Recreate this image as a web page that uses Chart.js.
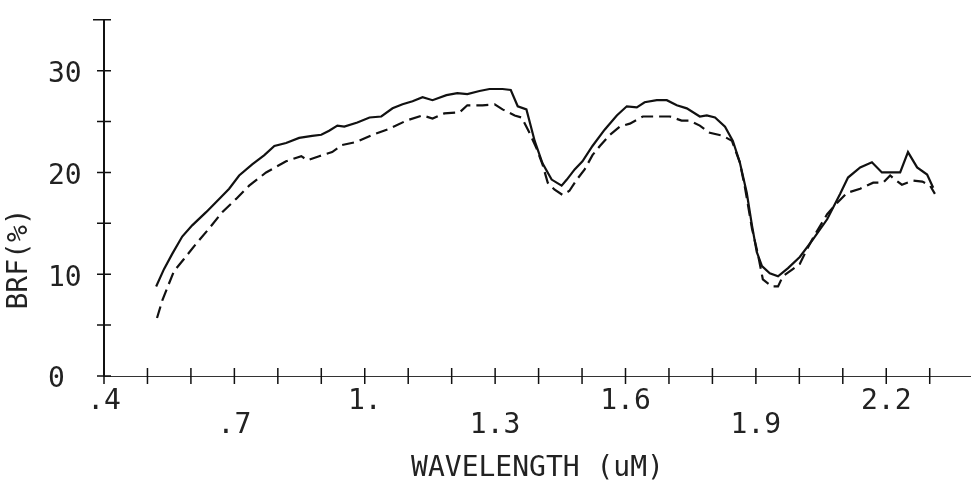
<!DOCTYPE html>
<html>
<head>
<meta charset="utf-8">
<script src="https://cdn.jsdelivr.net/npm/chart.js@4/dist/chart.umd.min.js"></script>
<style>
  html, body { margin: 0; padding: 0; background: #fff; }
  canvas { display: block; }
</style>
</head>
<body>
<canvas id="c" width="971" height="488"></canvas>
<script>
// ---- data ----
const solidWl = [0.520,0.538,0.557,0.580,0.603,0.635,0.665,0.688,0.711,0.741,0.769,0.792,0.819,0.849,0.879,0.900,0.918,0.937,0.953,0.983,
  1.011,1.038,1.064,1.087,1.110,1.133,1.156,1.188,1.213,1.236,1.264,1.287,1.317,1.336,
  1.352,1.372,1.391,1.409,1.430,1.453,1.465,1.483,1.501,1.524,1.552,1.580,
  1.603,1.626,1.644,1.672,1.695,1.718,1.741,1.771,1.787,1.806,1.829,1.847,1.863,1.879,1.891,
  1.902,1.914,1.932,1.951,1.974,2.001,2.031,2.064,2.094,2.112,2.140,2.167,2.190,2.209,2.232,2.250,2.271,2.294,2.308];
const solidBrf = [8.8,10.5,12.0,13.7,14.8,16.1,17.4,18.4,19.7,20.8,21.7,22.6,22.9,23.4,23.6,23.7,24.1,24.6,24.5,24.9,
  25.4,25.5,26.3,26.7,27.0,27.4,27.1,27.6,27.8,27.7,28.0,28.2,28.2,28.1,
  26.5,26.2,23.1,20.9,19.3,18.7,19.3,20.3,21.1,22.6,24.2,25.6,
  26.5,26.4,26.9,27.1,27.1,26.6,26.3,25.5,25.6,25.4,24.5,23.1,21.0,18.0,14.8,
  12.2,10.8,10.1,9.8,10.6,11.7,13.4,15.4,17.9,19.5,20.5,21.0,20.0,20.0,20.0,22.0,20.5,19.8,18.5];

const dashedWl = [0.522,0.534,0.545,0.561,0.584,0.612,0.642,0.672,0.704,0.734,0.773,0.819,0.854,0.868,0.895,0.925,0.948,0.981,
  1.018,1.057,1.096,1.133,1.156,1.183,1.218,1.236,1.271,1.299,1.317,1.345,1.361,1.379,1.395,1.409,1.421,1.437,1.455,1.471,1.488,
  1.506,1.524,1.541,1.564,1.587,1.610,1.640,1.672,1.702,1.729,1.748,1.771,1.794,1.824,1.845,1.863,1.875,1.891,
  1.905,1.916,1.937,1.951,1.962,1.985,2.001,2.018,2.036,2.064,2.089,2.110,2.140,2.170,2.193,2.209,2.220,2.236,2.262,2.283,2.301,2.312];
const dashedBrf = [5.7,7.4,8.6,10.3,11.5,13.0,14.5,16.1,17.4,18.7,20.0,21.1,21.6,21.2,21.6,22.0,22.7,23.0,
  23.7,24.3,25.1,25.6,25.3,25.8,25.9,26.6,26.6,26.7,26.2,25.6,25.4,23.9,22.4,20.8,19.0,18.3,17.8,18.2,19.3,
  20.3,21.7,22.6,23.7,24.5,24.8,25.5,25.5,25.5,25.1,25.1,24.6,23.9,23.6,23.1,21.0,18.5,14.5,
  11.9,9.5,8.8,8.8,9.8,10.5,11.0,12.5,13.9,15.9,17.1,18.0,18.4,19.0,19.0,19.7,19.3,18.8,19.2,19.1,18.7,17.9];

// ---- ticks and labels ----
const xTickValues = [0.4,0.5,0.6,0.7,0.8,0.9,1.0,1.1,1.2,1.3,1.4,1.5,1.6,1.7,1.8,1.9,2.0,2.1,2.2,2.3];
const xLabelValues = [0.4,0.7,1.0,1.3,1.6,1.9,2.2];
const xLabelTexts = ['.4','.7','1.','1.3','1.6','1.9','2.2'];
const yLabelValues = [0,10,20,30];
const yLabelTexts = ['0','10','20','30'];
const xTitle = 'WAVELENGTH (uM)';
const yTitle = 'BRF(%)';

const FONT = "'DejaVu Sans Mono', monospace";
const INK = '#111';
const TEXT = '#222';

const toPts = (xs, ys) => xs.map((x, i) => ({ x: x, y: ys[i] }));

const crossTicks = {
  id: 'crossTicks',
  afterDraw(chart) {
    const ctx = chart.ctx;
    const xs = chart.scales.x, ys = chart.scales.y;
    const y0 = ys.getPixelForValue(0);
    const x0 = xs.getPixelForValue(0.4);
    ctx.save();
    ctx.strokeStyle = INK;
    ctx.lineWidth = 1.5;
    ctx.beginPath();
    xs.ticks.forEach(t => {
      const px = xs.getPixelForValue(t.value);
      ctx.moveTo(px, y0 - 8); ctx.lineTo(px, y0 + 8);
    });
    ys.ticks.forEach(t => {
      const py = ys.getPixelForValue(t.value);
      const extra = t.value === ys.max ? 4 : 0;
      ctx.moveTo(x0 - 7 - extra, py); ctx.lineTo(x0 + 7, py);
    });
    ctx.stroke();
    // y axis title, rotated
    ctx.fillStyle = TEXT;
    ctx.font = "28px " + FONT;
    ctx.translate(20, ys.getPixelForValue(11.5));
    ctx.rotate(-Math.PI / 2);
    ctx.textAlign = 'center';
    ctx.textBaseline = 'middle';
    ctx.fillText(yTitle, 0, 0);
    ctx.restore();
  }
};

new Chart(document.getElementById('c'), {
  type: 'line',
  data: {
    datasets: [
      { label: 'solid', data: toPts(solidWl, solidBrf), borderColor: INK, borderWidth: 2.2,
        pointRadius: 0, tension: 0, fill: false },
      { label: 'dashed', data: toPts(dashedWl, dashedBrf), borderColor: INK, borderWidth: 2.2,
        borderDash: [12, 6], pointRadius: 0, tension: 0, fill: false }
    ]
  },
  options: {
    responsive: false,
    animation: false,
    devicePixelRatio: 1,
    layout: { padding: { left: 48, top: 15, right: 0, bottom: 0 } },
    plugins: { legend: { display: false }, tooltip: { enabled: false }, title: { display: false } },
    scales: {
      x: {
        type: 'linear',
        min: 0.4, max: 2.395,
        afterBuildTicks: s => { s.ticks = xTickValues.map(v => ({ value: v })); },
        afterFit: s => { s.height = 112; },
        grid: { display: false, drawTicks: false },
        border: { display: true, color: '#333', width: 1, dash: [16, 3] },
        ticks: {
          autoSkip: false, maxRotation: 0, minRotation: 0, padding: 14, color: TEXT,
          font: { family: FONT, size: 28, lineHeight: 0.85 },
          callback: v => {
            const i = xLabelValues.findIndex(a => Math.abs(a - v) < 1e-6);
            if (i < 0) return '';
            return i % 2 === 0 ? [xLabelTexts[i]] : ['', xLabelTexts[i]];
          }
        },
        title: { display: true, text: xTitle, color: TEXT,
          font: { family: FONT, size: 28, lineHeight: 1 }, padding: { top: 0, bottom: 5 } }
      },
      y: {
        min: 0, max: 35,
        afterFit: s => { s.width = 56; },
        grid: { display: false, drawTicks: false },
        border: { display: true, color: INK, width: 2 },
        ticks: {
          stepSize: 5, autoSkip: false, crossAlign: 'far', color: TEXT, labelOffset: 4,
          font: { family: FONT, size: 28 },
          callback: v => {
            const i = yLabelValues.findIndex(a => Math.abs(a - v) < 1e-6);
            return i < 0 ? '' : yLabelTexts[i];
          }
        }
      }
    }
  },
  plugins: [crossTicks]
});
</script>
</body>
</html>
